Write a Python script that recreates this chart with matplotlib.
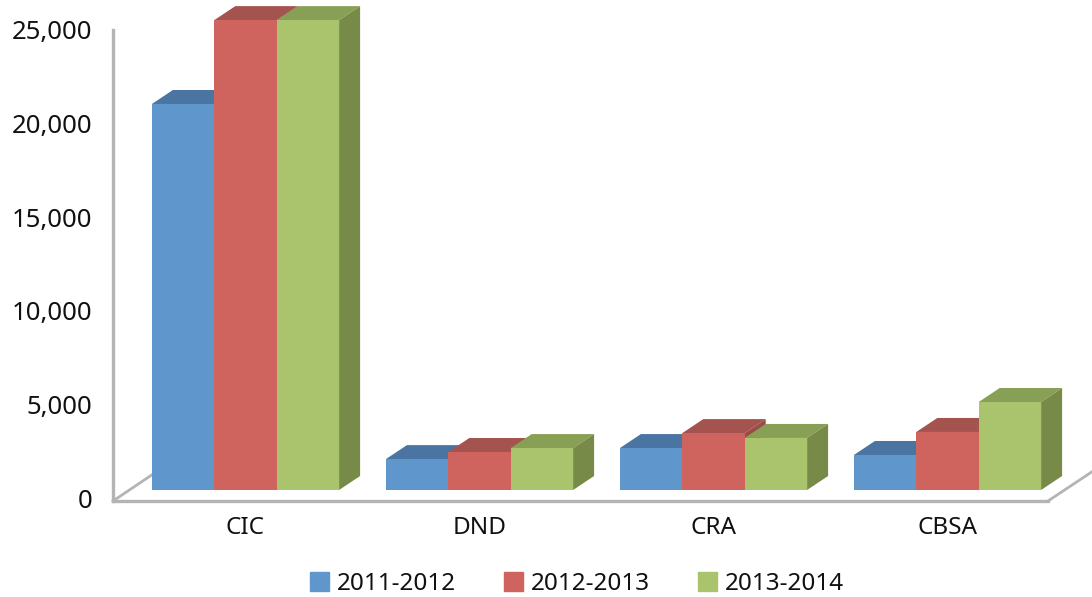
"""
Grouped pseudo-3D bar chart by department, 2011-2014.
"""

import matplotlib
matplotlib.use("Agg")
import matplotlib.pyplot as plt
from matplotlib.patches import Patch, Polygon

departments = ["CIC", "DND", "CRA", "CBSA"]
years = ["2011-2012", "2012-2013", "2013-2014"]
values_2011 = [20620, 1650, 2240, 1870]
values_2012 = [25100, 2030, 3040, 3100]
values_2013 = [25100, 2240, 2780, 4700]
y_ticks = [0, 5000, 10000, 15000, 20000, 25000]

front_colors = ["#5f96cc", "#cf635e", "#a9c46c"]
top_colors = ["#4a75a3", "#a5534f", "#88a055"]
side_colors = ["#48709c", "#9c4c48", "#788a48"]
axis_color = "#b4b4b4"

plt.rcParams["font.family"] = ["Noto Sans", "DejaVu Sans"]

W, H = 1092, 597
fig = plt.figure(figsize=(W / 100, H / 100), dpi=100)
# axes box in pixels: left 113, right 1048, top 30, bottom 501
ax = fig.add_axes([113 / W, 1 - 501 / H, 935 / W, 471 / H])

px_per_x = 234
px_per_y = 468 / 25000
ax.set_xlim((113 - 245.5) / px_per_x, (1048 - 245.5) / px_per_x)
ax.set_ylim(-3 / px_per_y, 25000)

bar_width = 62.4 / px_per_x
depth_x = 21 / px_per_x
depth_y = 14 / px_per_y
floor = 8 / px_per_y

series = [values_2011, values_2012, values_2013]

# floor edges behind the bars
ax.plot([0, 0.045], [0, 0.06], transform=ax.transAxes, color=axis_color,
        lw=2, clip_on=False, zorder=1)
ax.plot([1, 1.047], [0, 0.062], transform=ax.transAxes, color=axis_color,
        lw=2, clip_on=False, zorder=1)

z = 2
for g in range(len(departments)):
    for s, vals in enumerate(series):
        x0 = g + (s - 1.5) * bar_width
        x1 = x0 + bar_width
        base = floor
        top = floor + vals[g]

        ax.add_patch(Polygon(
            [(x0, top), (x1, top), (x1 + depth_x, top + depth_y), (x0 + depth_x, top + depth_y)],
            facecolor=top_colors[s], edgecolor="none", clip_on=False, zorder=z
        ))
        ax.add_patch(Polygon(
            [(x1, base), (x1 + depth_x, base + depth_y), (x1 + depth_x, top + depth_y), (x1, top)],
            facecolor=side_colors[s], edgecolor="none", clip_on=False, zorder=z
        ))
        ax.bar(x0, vals[g], width=bar_width, bottom=base, align="edge",
               color=front_colors[s], clip_on=False, zorder=z + 1)
        z += 2

for name in ["top", "right"]:
    ax.spines[name].set_visible(False)
for name in ["left", "bottom"]:
    ax.spines[name].set_color(axis_color)
    ax.spines[name].set_linewidth(2.4)

ax.set_xticks(range(len(departments)))
ax.set_xticklabels(departments)
ax.set_yticks(y_ticks)
ax.set_yticklabels([f"{v:,}" for v in y_ticks])
ax.tick_params(axis="x", length=0, pad=11, labelsize=17.5, labelcolor="#111111")
ax.tick_params(axis="y", length=0, pad=15, labelsize=18.5, labelcolor="#111111")

handles = [Patch(color=c, label=y) for c, y in zip(front_colors, years)]
fig.legend(
    handles=handles, ncol=3, loc="center", bbox_to_anchor=(577 / W, 1 - 584 / H),
    frameon=False, fontsize=17.5, labelcolor="#111111", handlelength=0.78,
    handleheight=0.78, handletextpad=0.35, columnspacing=1.95
)

fig.savefig("out.png", dpi=100)
